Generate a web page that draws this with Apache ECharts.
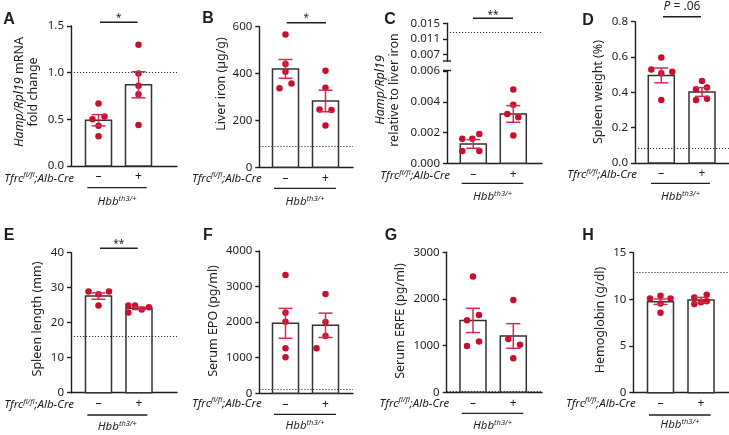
<!DOCTYPE html>
<html><head><meta charset="utf-8">
<script src="https://cdn.jsdelivr.net/npm/echarts@6/dist/echarts.min.js"></script>
<style>html,body{margin:0;padding:0;background:#fff}#c{width:729px;height:435px}</style>
</head><body><div id="c"></div>
<script>
// ---------------- data ----------------
const groups = ['–', '+'];

const A_neg = [0.67, 0.50, 0.53, 0.43, 0.32];
const A_pos = [1.30, 0.99, 0.86, 0.77, 0.44];
const A_mean = [0.49, 0.87];
const A_sem = [0.06, 0.14];
const A_ref = 1.0;
const A_ticks = [0, 0.5, 1.0, 1.5];

const B_neg = [567, 441, 408, 337, 358];
const B_pos = [412, 340, 247, 245, 178];
const B_mean = [420, 283];
const B_sem = [40, 46];
const B_ref = 88;
const B_ticks = [0, 200, 400, 600];

const C_neg = [0.0016, 0.0016, 0.0019, 0.0008, 0.0008];
const C_pos = [0.0048, 0.0038, 0.0032, 0.0030, 0.0018];
const C_mean = [0.00126, 0.00321];
const C_sem = [0.00028, 0.00054];
const C_ref = 0.0128;
const C_ticks = [0, 0.002, 0.004, 0.006];
const C_ticksHigh = [0.007, 0.011, 0.015];
const C_highMin = 0.0053;

const D_neg = [0.530, 0.598, 0.508, 0.517, 0.357];
const D_pos = [0.464, 0.417, 0.428, 0.357, 0.364];
const D_mean = [0.496, 0.402];
const D_sem = [0.042, 0.025];
const D_ref = 0.083;
const D_ticks = [0, 0.2, 0.4, 0.6, 0.8];

const E_neg = [28.9, 28.1, 28.9, 24.9];
const E_pos = [24.9, 24.9, 23.8, 24.4, 22.9];
const E_mean = [27.6, 24.1];
const E_sem = [0.9, 0.35];
const E_ref = 16.2;
const E_ticks = [0, 10, 20, 30, 40];

const F_neg = [3325, 2267, 2014, 1265, 1012];
const F_pos = [2792, 2005, 1611, 1265];
const F_mean = [1967, 1911];
const F_sem = [420, 342];
const F_ref = 110;
const F_ticks = [0, 1000, 2000, 3000, 4000];

const G_neg = [2479, 1543, 1657, 993, 1086];
const G_pos = [1979, 1143, 1021, 729];
const G_mean = [1540, 1207];
const G_sem = [260, 264];
const G_ref = 15;
const G_ticks = [0, 1000, 2000, 3000];

const H_neg = [10.1, 10.4, 10.1, 9.57, 8.57];
const H_pos = [10.2, 10.5, 9.5, 9.7, 9.8];
const H_mean = [9.75, 9.93];
const H_sem = [0.29, 0.28];
const H_ref = 12.9;
const H_ticks = [0, 5, 10, 15];

// ---------------- layout / style ----------------
const FONT = 'Noto Sans';
const RED = '#c8102e', ERR = '#d42a50', INK = '#1e1e1e', BAR = '#333';

const panels = [
 {key:'A', neg:A_neg, pos:A_pos, mean:A_mean, sem:A_sem, ref:A_ref, ticks:A_ticks, dec:1,
  L:{ax:71, c0:98.5, c1:138.5, xEnd:177, yTop:26, y0:166},
  jit:[[0,-6,6,0,0],[0,0,0,0,0]],
  name:'{i|Hamp/Rpl19} mRNA\nfold change', nx:26, ny:92,
  lab:{tx:74, ty:178.3, by:187.7, b1:87.3, b2:146.7, hy:201.7},
  letter:[9,20], sig:{x1:100, x2:137.7, y:22.3, t:'*', ty:18.5, s:10}},
 {key:'B', neg:B_neg, pos:B_pos, mean:B_mean, sem:B_sem, ref:B_ref, ticks:B_ticks, dec:0,
  L:{ax:259.3, c0:285.5, c1:325.5, xEnd:353, yTop:26.7, y0:167.3},
  jit:[[0,0,0,-6,6],[0,0,-6,6,0]],
  name:'Liver iron (µg/g)', nx:221, ny:84,
  lab:{tx:261.7, ty:178.3, by:188.3, b1:274, b2:336, hy:201.7},
  letter:[208,19], sig:{x1:286.7, x2:326, y:22.7, t:'*', ty:18.5, s:10}},
 {key:'C', neg:C_neg, pos:C_pos, mean:C_mean, sem:C_sem, ref:null, ticks:C_ticks, dec:3,
  L:{ax:447, c0:473.3, c1:513.3, xEnd:542, yTop:71, y0:163.3},
  jit:[[-11,-1,6,-11,6],[0,0,-6,5,0]],
  name:'{i|Hamp/Rpl19}\nrelative to liver iron', nx:387, ny:90,
  lab:{tx:450, ty:176, by:183.3, b1:461.7, b2:523.3, hy:196.7},
  letter:[390,20], sig:{x1:473, x2:513, y:18.3, t:'**', ty:15, s:10}},
 {key:'D', neg:D_neg, pos:D_pos, mean:D_mean, sem:D_sem, ref:D_ref, ticks:D_ticks, dec:1,
  L:{ax:635, c0:661.3, c1:702, xEnd:729, yTop:21.7, y0:163},
  jit:[[-10,0,0,11,0],[0,-6,5,-6,5]],
  name:'Spleen weight (%)', nx:598.3, ny:92,
  lab:{tx:637, ty:175, by:183.3, b1:651, b2:710, hy:196.7},
  letter:[588,20.5], sig:{x1:663, x2:701, y:16.7, t:'{i|P} = .06', ty:7, s:12}},
 {key:'E', neg:E_neg, pos:E_pos, mean:E_mean, sem:E_sem, ref:E_ref, ticks:E_ticks, dec:0,
  L:{ax:71, c0:98.5, c1:139, xEnd:177, yTop:252.7, y0:392.7},
  jit:[[-10,0,10.5,0],[-10.7,-4,2.7,10,-10.7]],
  name:'Spleen length (mm)', nx:37.7, ny:319,
  lab:{tx:74, ty:405, by:415, b1:87.3, b2:147.3, hy:426.7},
  letter:[9,236], sig:{x1:100, x2:137.7, y:248.3, t:'**', ty:244.5, s:10}},
 {key:'F', neg:F_neg, pos:F_pos, mean:F_mean, sem:F_sem, ref:F_ref, ticks:F_ticks, dec:0,
  L:{ax:259.3, c0:285.5, c1:325.5, xEnd:353, yTop:251, y0:393.3},
  jit:[[0,0,0,0,0],[0,0,0,-9]],
  name:'Serum EPO (pg/ml)', nx:213.3, ny:321,
  lab:{tx:261.7, ty:403.3, by:414.3, b1:274, b2:336, hy:425.7},
  letter:[208,236], sig:null},
 {key:'G', neg:G_neg, pos:G_pos, mean:G_mean, sem:G_sem, ref:G_ref, ticks:G_ticks, dec:0,
  L:{ax:446.7, c0:473, c1:513.3, xEnd:542, yTop:252.3, y0:392.3},
  jit:[[0,-6,6,-6,6],[0,-5,6.7,0]],
  name:'Serum ERFE (pg/ml)', nx:400, ny:321,
  lab:{tx:449.3, ty:403.3, by:413.3, b1:461.7, b2:523.3, hy:425.7},
  letter:[391,236], sig:null},
 {key:'H', neg:H_neg, pos:H_pos, mean:H_mean, sem:H_sem, ref:H_ref, ticks:H_ticks, dec:0,
  L:{ax:633.3, c0:660.5, c1:701, xEnd:729, yTop:252.7, y0:392.7},
  jit:[[-10.5,0,10,0,0],[-6.7,5.7,-6.7,0,5.7]],
  name:'Hemoglobin (g/dl)', nx:600, ny:320,
  lab:{tx:635.7, ty:403.3, by:415, b1:649, b2:710.7, hy:425},
  letter:[588,236], sig:null}
];

const BAR_W = 26, CAP = 7;
const grids = [], xAxes = [], yAxes = [], series = [], graphics = [];

function rich(size) {
  return {
    i: {fontStyle:'italic', fontFamily:FONT, fontSize:size, fill:INK, color:INK, lineHeight:size + 3},
    sup: {fontStyle:'italic', fontFamily:FONT, fontSize:7.5, fill:INK, color:INK, lineHeight:9, verticalAlign:'top'}
  };
}

function txt(x, y, text, opts) {
  opts = opts || {};
  const size = opts.size || 12;
  graphics.push({
    type:'text', x:x, y:y, rotation:opts.rot || 0, silent:true, z:100,
    style:{
      text:text, fill:INK, fontFamily:opts.family || FONT, fontSize:size,
      fontWeight:opts.weight || 'normal', fontStyle:opts.style || 'normal',
      align:opts.align || 'center', verticalAlign:opts.valign || 'middle',
      textAlign:opts.align || 'center', textVerticalAlign:opts.valign || 'middle',
      lineHeight:opts.lh || (size + 2),
      rich:rich(size)
    }
  });
}
function seg(x1, y1, x2, y2, w) {
  graphics.push({type:'line', silent:true, z:100, shape:{x1:x1, y1:y1, x2:x2, y2:y2},
    style:{stroke:INK, lineWidth:w || 1.4}});
}
function refLine(v) {
  return {silent:true, symbol:['none','none'], label:{show:false}, precision:8,
    lineStyle:{color:'#333', width:1, type:[1.2, 1.8]}, data:[{yAxis:v}]};
}

function yAxisCfg(gi, ticks, dec, minV) {
  return {gridIndex:gi, type:'value', min:minV, max:ticks[ticks.length-1],
    axisLine:{show:true, onZero:false, lineStyle:{color:INK, width:1.4}},
    axisTick:{show:true, length:4, customValues:ticks, lineStyle:{color:INK, width:1.4}},
    splitLine:{show:false},
    axisLabel:{customValues:ticks, color:INK, fontFamily:FONT, fontSize:11.5, margin:7,
      formatter:v => Number(v).toFixed(dec)}};
}

panels.forEach(p => {
  const L = p.L, u = L.c1 - L.c0;
  const xmin = -(L.c0 - L.ax) / u, xmax = 1 + (L.xEnd - L.c1) / u;
  const hw = BAR_W / 2 / u;
  const gi = grids.length;
  grids.push({left:L.ax, top:L.yTop, width:L.xEnd - L.ax, height:L.y0 - L.yTop,
    containLabel:false, outerBoundsMode:'none'});
  xAxes.push({gridIndex:gi, type:'value', min:xmin, max:xmax,
    axisLine:{show:true, onZero:false, lineStyle:{color:INK, width:1.4}},
    axisTick:{show:false}, splitLine:{show:false},
    axisLabel:{customValues:[0, 1], formatter:v => groups[Math.round(v)], color:INK,
      fontFamily:FONT, fontSize:12, margin:5}});
  yAxes.push(yAxisCfg(gi, p.ticks, p.dec, 0));

  series.push({type:'custom', xAxisIndex:gi, yAxisIndex:gi, z:2, silent:true,
    data:p.mean.map((m, i) => [i, m]),
    renderItem:(params, api) => {
      const x = api.value(0), m = api.value(1);
      const a = api.coord([x - hw, m]), b = api.coord([x + hw, 0]);
      return {type:'rect', shape:{x:a[0], y:a[1], width:b[0]-a[0], height:b[1]-a[1]},
        style:{fill:'#fff', stroke:BAR, lineWidth:1.5}};
    }});

  const pts = [];
  [p.neg, p.pos].forEach((arr, g) => arr.forEach((v, i) => pts.push([g + p.jit[g][i] / u, v])));
  const sc = {type:'scatter', xAxisIndex:gi, yAxisIndex:gi, z:3, silent:true, data:pts,
    symbol:'circle', symbolSize:6.5, itemStyle:{color:RED, opacity:1}};
  if (p.ref !== null) sc.markLine = refLine(p.ref);
  series.push(sc);

  series.push({type:'custom', xAxisIndex:gi, yAxisIndex:gi, z:4, silent:true,
    data:p.mean.map((m, i) => [i, m, p.sem[i]]),
    renderItem:(params, api) => {
      const x = api.value(0), m = api.value(1), s = api.value(2);
      const t = api.coord([x, m + s]), b = api.coord([x, m - s]);
      const st = {stroke:ERR, lineWidth:1.5};
      return {type:'group', children:[
        {type:'line', shape:{x1:t[0], y1:t[1], x2:b[0], y2:b[1]}, style:st},
        {type:'line', shape:{x1:t[0]-CAP, y1:t[1], x2:t[0]+CAP, y2:t[1]}, style:st},
        {type:'line', shape:{x1:b[0]-CAP, y1:b[1], x2:b[0]+CAP, y2:b[1]}, style:st}
      ]};
    }});

  // C: upper broken segment
  if (p.key === 'C') {
    const gt = grids.length;
    grids.push({left:L.ax, top:23.3, width:L.xEnd - L.ax, height:61 - 23.3,
      containLabel:false, outerBoundsMode:'none'});
    xAxes.push({gridIndex:gt, type:'value', min:xmin, max:xmax, show:false});
    yAxes.push(yAxisCfg(gt, C_ticksHigh, 3, C_highMin));
    series.push({type:'scatter', xAxisIndex:gt, yAxisIndex:gt, data:[], silent:true,
      markLine:refLine(C_ref)});
    seg(L.ax - 4, 61, L.ax + 4, 61, 1.4);
    seg(L.ax - 4, 70.5, L.ax + 4, 70.5, 1.4);
  }

  // annotations
  txt(p.letter[0], p.letter[1], p.key, {size:16, weight:'bold', family:'Liberation Sans'});
  txt(p.nx, p.ny, p.name, {rot:Math.PI / 2, size:12.5, lh:13});
  txt(p.lab.tx, p.lab.ty, '{i|Tfrc}{sup|fl/fl}{i|;Alb-Cre}', {align:'right', size:11.5});
  seg(p.lab.b1, p.lab.by, p.lab.b2, p.lab.by, 1.3);
  txt((p.lab.b1 + p.lab.b2) / 2, p.lab.hy, '{i|Hbb}{sup|th3/+}', {size:11.5});
  if (p.sig) {
    seg(p.sig.x1, p.sig.y, p.sig.x2, p.sig.y, 1.4);
    txt((p.sig.x1 + p.sig.x2) / 2, p.sig.ty, p.sig.t, {size:p.sig.s});
  }
});

const chart = echarts.init(document.getElementById('c'), null, {renderer:'canvas', width:729, height:435});
chart.setOption({
  animation:false, backgroundColor:'#fff',
  grid:grids, xAxis:xAxes, yAxis:yAxes, series:series, graphic:{elements:graphics}
});
</script>
</body></html>
